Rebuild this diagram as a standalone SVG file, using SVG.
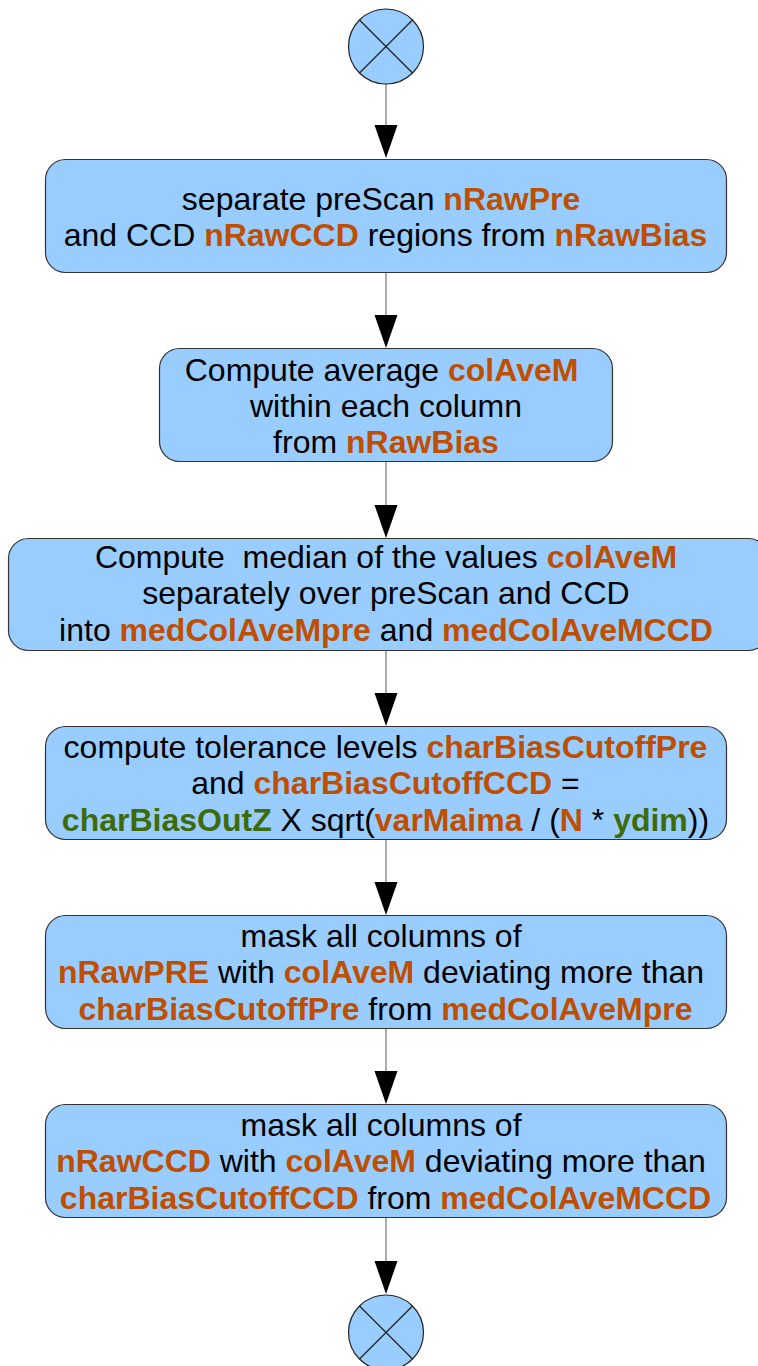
<svg xmlns="http://www.w3.org/2000/svg" width="758" height="1366" viewBox="0 0 758 1366">
  <defs>
    <style>
      .box { fill: #99ccff; stroke: #333333; stroke-width: 1.2; }
      .term { fill: #99ccff; stroke: #222222; stroke-width: 1.2; }
      .cross { stroke: #222222; stroke-width: 1.2; }
      .flow { stroke: #7f7f7f; stroke-width: 1.3; fill: none; }
      .head { fill: #000000; }
      text { font-family: "Liberation Sans", Arial, sans-serif; font-size: 32px; fill: #000000; text-anchor: middle; }
      .v { fill: #bf4f00; font-weight: bold; }
      .p { fill: #3e6b0a; font-weight: bold; }
    </style>
  </defs>

  <!-- connectors -->
  <g id="connectors">
    <line class="flow" x1="386" y1="84" x2="386" y2="128"/>
    <polygon class="head" points="374.5,125 397.5,125 386,158"/>
    <line class="flow" x1="386" y1="273" x2="386" y2="318"/>
    <polygon class="head" points="374.5,315 397.5,315 386,348"/>
    <line class="flow" x1="386" y1="462" x2="386" y2="508"/>
    <polygon class="head" points="374.5,505 397.5,505 386,538"/>
    <line class="flow" x1="386" y1="651" x2="386" y2="696"/>
    <polygon class="head" points="374.5,693 397.5,693 386,726"/>
    <line class="flow" x1="386" y1="840" x2="386" y2="885"/>
    <polygon class="head" points="374.5,882 397.5,882 386,915"/>
    <line class="flow" x1="386" y1="1029" x2="386" y2="1074"/>
    <polygon class="head" points="374.5,1071 397.5,1071 386,1104"/>
    <line class="flow" x1="386" y1="1218" x2="386" y2="1264"/>
    <polygon class="head" points="374.5,1261 397.5,1261 386,1294"/>
  </g>

  <!-- start terminal -->
  <g id="start">
    <circle class="term" cx="386" cy="46.5" r="37.5"/>
    <line class="cross" x1="359.5" y1="20" x2="412.5" y2="73"/>
    <line class="cross" x1="412.5" y1="20" x2="359.5" y2="73"/>
  </g>

  <g id="separate">
    <rect class="box" x="45.5" y="159.5" width="681" height="113" rx="20"/>
    <text x="385.5" y="210" xml:space="preserve">separate preScan <tspan class="v">nRawPre</tspan> </text>
    <text x="385.5" y="246" xml:space="preserve">and CCD <tspan class="v">nRawCCD</tspan> regions from <tspan class="v">nRawBias</tspan></text>
  </g>

  <g id="colAverage">
    <rect class="box" x="159.5" y="348.5" width="453" height="113" rx="20"/>
    <text x="386" y="381" xml:space="preserve">Compute average <tspan class="v">colAveM</tspan> </text>
    <text x="386" y="417" xml:space="preserve">within each column</text>
    <text x="386" y="453" xml:space="preserve">from <tspan class="v">nRawBias</tspan></text>
  </g>

  <g id="median">
    <rect class="box" x="8.5" y="538.5" width="760" height="112" rx="20"/>
    <text x="386" y="568" xml:space="preserve">Compute  median of the values <tspan class="v">colAveM</tspan></text>
    <text x="386" y="604" xml:space="preserve">separately over preScan and CCD</text>
    <text x="386" y="641" xml:space="preserve">into <tspan class="v">medColAveMpre</tspan> and <tspan class="v">medColAveMCCD</tspan></text>
  </g>

  <g id="tolerance">
    <rect class="box" x="45.5" y="726.5" width="681" height="113" rx="20"/>
    <text x="385.5" y="758" xml:space="preserve">compute tolerance levels <tspan class="v">charBiasCutoffPre</tspan></text>
    <text x="385.5" y="794" xml:space="preserve">and <tspan class="v">charBiasCutoffCCD</tspan> =</text>
    <text x="385.5" y="831" xml:space="preserve"><tspan class="p">charBiasOutZ</tspan> X sqrt(<tspan class="v">varMaima</tspan> / (<tspan class="v">N</tspan> * <tspan class="p">ydim</tspan>))</text>
  </g>

  <g id="maskPre">
    <rect class="box" x="45.5" y="915.5" width="681" height="113" rx="20"/>
    <text x="385.5" y="947" xml:space="preserve">mask all columns of </text>
    <text x="385.5" y="983" xml:space="preserve"><tspan class="v">nRawPRE</tspan> with <tspan class="v">colAveM</tspan> deviating more than </text>
    <text x="385.5" y="1020" xml:space="preserve"><tspan class="v">charBiasCutoffPre</tspan> from <tspan class="v">medColAveMpre</tspan></text>
  </g>

  <g id="maskCCD">
    <rect class="box" x="45.5" y="1104.5" width="681" height="113" rx="20"/>
    <text x="385.5" y="1136" xml:space="preserve">mask all columns of </text>
    <text x="385.5" y="1172" xml:space="preserve"><tspan class="v">nRawCCD</tspan> with <tspan class="v">colAveM</tspan> deviating more than </text>
    <text x="385.5" y="1209" xml:space="preserve"><tspan class="v">charBiasCutoffCCD</tspan> from <tspan class="v">medColAveMCCD</tspan></text>
  </g>

  <!-- end terminal -->
  <g id="end">
    <circle class="term" cx="386" cy="1332.5" r="37.5"/>
    <line class="cross" x1="359.5" y1="1306" x2="412.5" y2="1359"/>
    <line class="cross" x1="412.5" y1="1306" x2="359.5" y2="1359"/>
  </g>
</svg>
